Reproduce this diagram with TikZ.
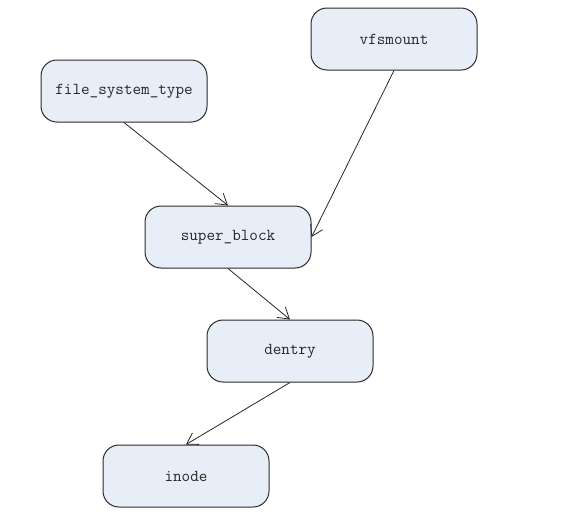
\documentclass[tikz,border=0pt]{standalone}
\usetikzlibrary{arrows.meta}
\definecolor{boxfill}{HTML}{E8EEF8}
\definecolor{boxline}{HTML}{2A2A2A}
\tikzset{
  box/.style={draw=boxline, fill=boxfill, line width=0.75pt, rounded corners=12pt,
    minimum width=124.5pt, minimum height=46.5pt, inner sep=0pt,
    font=\ttfamily\fontsize{12.5}{14}\selectfont, text=black!85},
  conn/.style={draw=black!85, line width=0.6pt, -{Straight Barb[length=8pt,width=10pt,line width=0.6pt]}}
}
\begin{document}
\begin{tikzpicture}[x=0.75pt,y=-0.75pt]
\useasboundingbox (0,0) rectangle (563,515);
\node[box] (fst) at (124,91) {file\_system\_type};
\node[box] (vfs) at (394,39) {vfsmount};
\node[box] (sb) at (228,237) {super\_block};
\node[box] (den) at (290,351) {dentry};
\node[box] (ino) at (186,476) {inode};
\draw[conn] (fst.south) -- (sb.north);
\draw[conn] (vfs.south) -- (sb.east);
\draw[conn] (sb.south) -- (den.north);
\draw[conn] (den.south) -- (ino.north);
\end{tikzpicture}
\end{document}
